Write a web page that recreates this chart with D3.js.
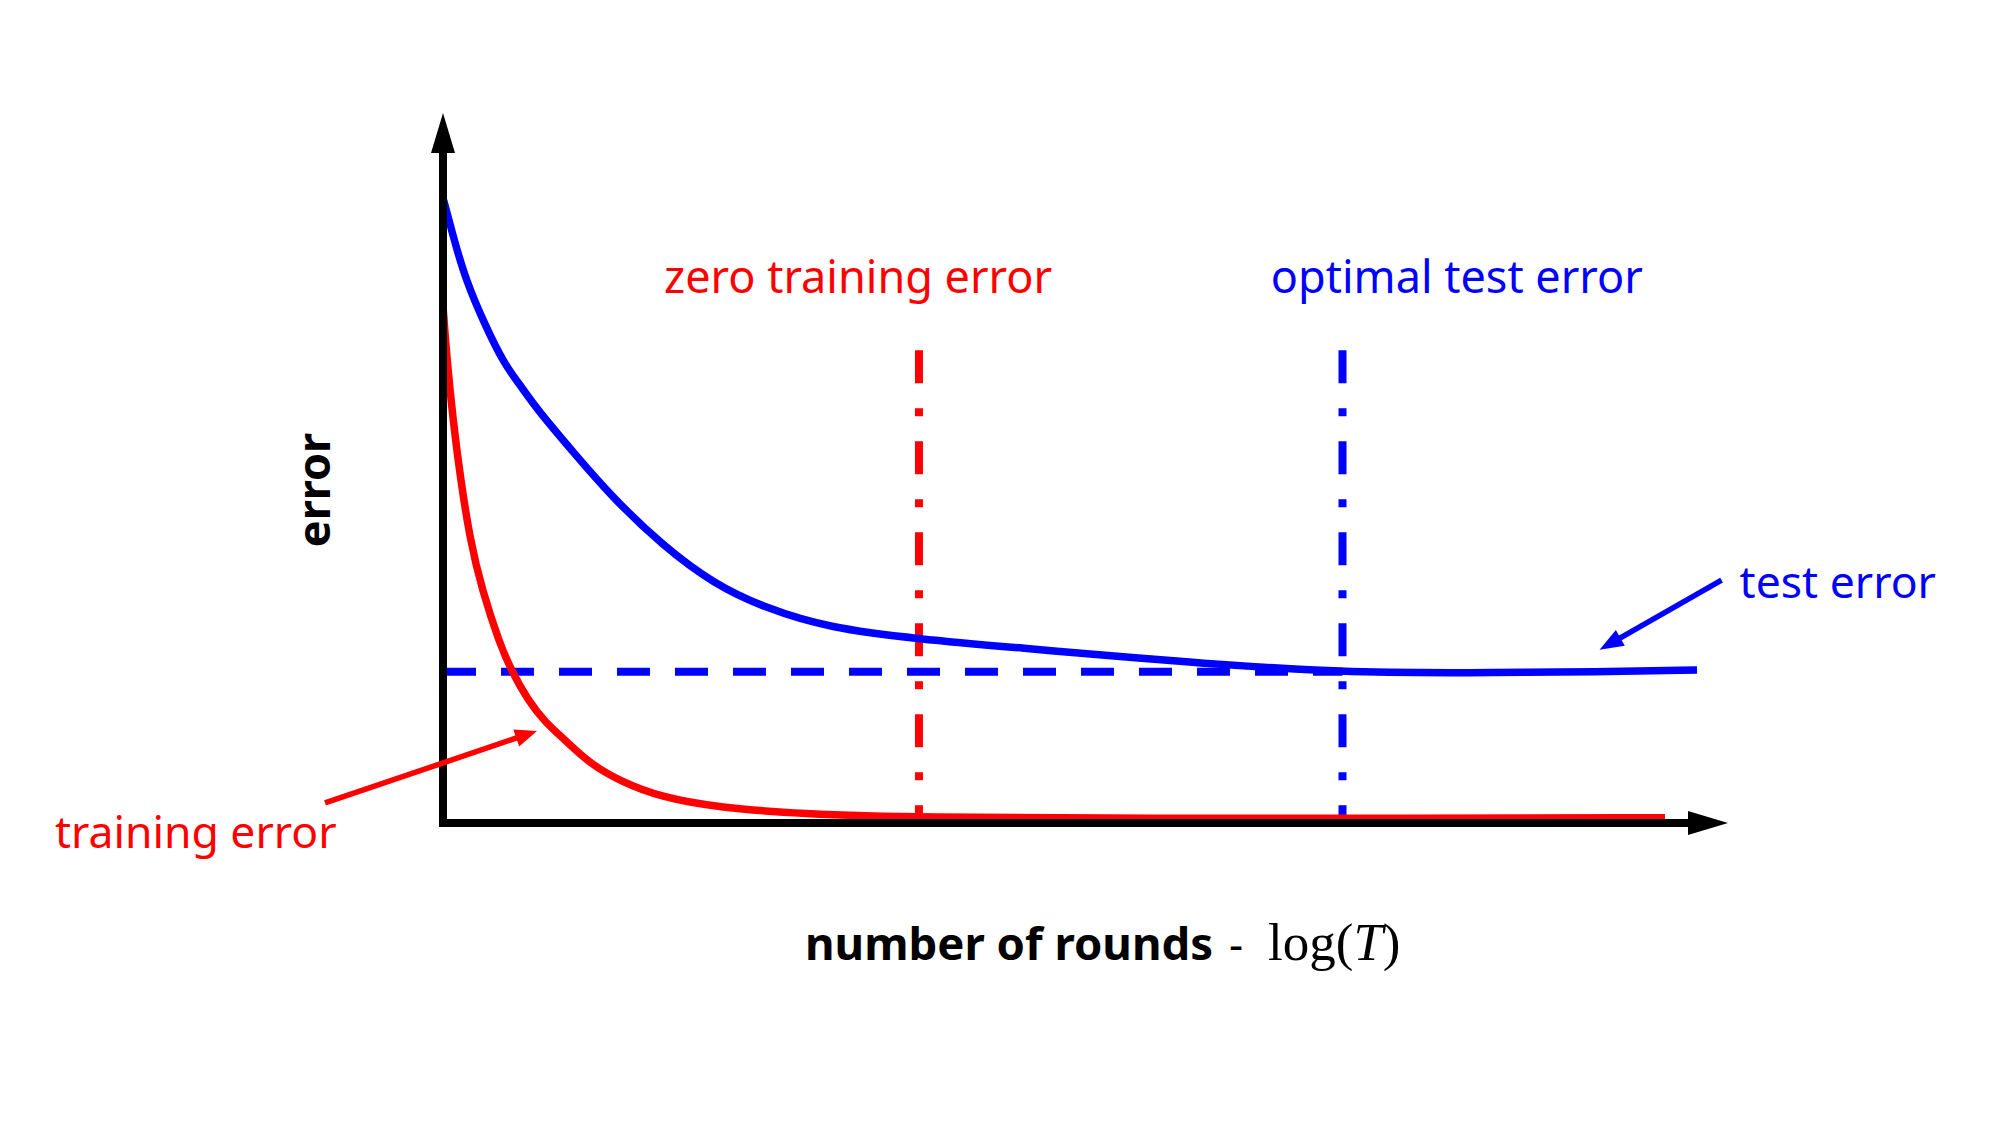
<!DOCTYPE html>
<html>
<head>
<meta charset="utf-8">
<script src="https://cdn.jsdelivr.net/npm/d3@7"></script>
<style>
  html, body { margin: 0; padding: 0; background: #fff; }
  svg { display: block; }
</style>
</head>
<body>
<svg id="chart" width="2000" height="1125"></svg>
<script>
// ---------- data (conceptual units: rounds 0..100, error 0..100) ----------
const testX  = [0, 0.78, 1.79, 3.27, 4.75, 6.23, 7.24, 10.19, 13.15, 17.12, 21.09, 25.06, 30.04, 36.96, 44.90, 54.86, 58.91, 64.75, 69.96, 79.69, 90.04, 97.59];
const testY  = [88.03, 82.68, 76.34, 70.14, 64.65, 61.13, 58.45, 52.11, 45.92, 39.01, 33.66, 30.28, 27.46, 25.92, 24.65, 23.10, 22.54, 21.83, 21.27, 21.13, 21.27, 21.55];
const trainX = [0, 0.31, 0.78, 1.32, 2.10, 3.04, 4.44, 5.37, 6.61, 7.94, 9.49, 11.46, 13.77, 16.89, 21.56, 27.78, 36.96, 54.86, 74.48, 95.10];
const trainY = [72.8, 65.2, 56.8, 49.0, 39.9, 32.8, 25.1, 21.3, 17.3, 14.2, 11.7, 8.31, 5.92, 3.66, 2.15, 1.30, 0.77, 0.65, 0.65, 0.75];

const optimalErrorLevel = 21.3;     // dashed horizontal level
const zeroTrainingX = 37.04;        // vertical marker: zero training error
const optimalTestX = 70.0;          // vertical marker: optimal test error
const markerTop = 66.6;             // top of vertical markers

const axisLabels = { x: ["number of rounds", "-", "log(", "T", ")"], y: "error" };
const markerLabels = ["zero training error", "optimal test error"];
const markerLabelPos = [[32.3, 74.6], [78.9, 74.6]];
const seriesLabels = ["test error", "training error"];
const seriesLabelPos = [[100.9, 31.7], [-30.2, -3.52]];
const seriesArrows = [[[99.5, 34.2], [90.0, 24.4]], [[-9.18, 2.82], [7.32, 12.96]]];

const RED = "#ff0000", BLUE = "#0000ff";

// ---------- scales ----------
const x = d3.scaleLinear().domain([0, 100]).range([443, 1728]);
const y = d3.scaleLinear().domain([0, 100]).range([823, 113]);

const svg = d3.select("#chart");

function arrow(g, x1, y1, x2, y2, color, width, headLen, headHalf, lineShorten) {
  const dx = x2 - x1, dy = y2 - y1, L = Math.hypot(dx, dy);
  const ux = dx / L, uy = dy / L, px = -uy, py = ux;
  const bx = x2 - ux * headLen, by = y2 - uy * headLen;
  g.append("line")
    .attr("x1", x1).attr("y1", y1)
    .attr("x2", x2 - ux * (headLen - lineShorten)).attr("y2", y2 - uy * (headLen - lineShorten))
    .attr("stroke", color).attr("stroke-width", width);
  g.append("polygon")
    .attr("points", [[x2, y2], [bx + px * headHalf, by + py * headHalf], [bx - px * headHalf, by - py * headHalf]].map(p => p.join(",")).join(" "))
    .attr("fill", color);
}

// ---------- reference lines ----------
svg.append("line")
  .attr("x1", x(0)).attr("x2", x(optimalTestX))
  .attr("y1", y(optimalErrorLevel)).attr("y2", y(optimalErrorLevel))
  .attr("stroke", BLUE).attr("stroke-width", 8).attr("stroke-dasharray", "33,25");

[[zeroTrainingX, RED], [optimalTestX, BLUE]].forEach(([v, c]) => {
  svg.append("line")
    .attr("x1", x(v)).attr("x2", x(v))
    .attr("y1", y(markerTop)).attr("y2", y(0))
    .attr("stroke", c).attr("stroke-width", 8).attr("stroke-dasharray", "33,25,8,25");
});

// ---------- curves ----------
const line = d3.line().x(d => x(d[0])).y(d => y(d[1])).curve(d3.curveBasis);
svg.append("path").datum(testX.map((v, i) => [v, testY[i]]))
  .attr("d", line).attr("fill", "none").attr("stroke", BLUE).attr("stroke-width", 7.5);
svg.append("path").datum(trainX.map((v, i) => [v, trainY[i]]))
  .attr("d", line).attr("fill", "none").attr("stroke", RED).attr("stroke-width", 7.5);

// ---------- axes ----------
const axes = svg.append("g");
arrow(axes, x(0), y(0) + 4, x(0), y(100), "#000", 8, 40, 12, 2);
arrow(axes, x(0) - 4, y(0), x(100), y(0), "#000", 8, 40, 12, 2);

// ---------- annotation arrows ----------
arrow(svg, x(seriesArrows[0][0][0]), y(seriesArrows[0][0][1]), x(seriesArrows[0][1][0]), y(seriesArrows[0][1][1]), BLUE, 5.5, 24, 9, 2);
arrow(svg, x(seriesArrows[1][0][0]), y(seriesArrows[1][0][1]), x(seriesArrows[1][1][0]), y(seriesArrows[1][1][1]), RED, 5.5, 22, 9, 2);

// ---------- texts ----------
const SANS = "'Noto Sans', 'Open Sans', sans-serif";
const SERIF = "'Liberation Serif', 'DejaVu Serif', serif";
markerLabels.forEach((t, i) => {
  svg.append("text").text(t)
    .attr("x", x(markerLabelPos[i][0])).attr("y", y(markerLabelPos[i][1]))
    .attr("text-anchor", "middle").attr("font-family", SANS).attr("font-size", 45)
    .attr("fill", i === 0 ? RED : BLUE);
});
seriesLabels.forEach((t, i) => {
  svg.append("text").text(t)
    .attr("x", x(seriesLabelPos[i][0])).attr("y", y(seriesLabelPos[i][1]))
    .attr("text-anchor", "start").attr("font-family", SANS).attr("font-size", 44.5)
    .attr("fill", i === 0 ? BLUE : RED);
});

// y label
svg.append("text").text(axisLabels.y)
  .attr("transform", `translate(330,${(y(0) + y(100)) / 2 + 22}) rotate(-90)`)
  .attr("text-anchor", "middle").attr("font-family", SANS).attr("font-weight", "bold")
  .attr("font-size", 45).attr("fill", "#000");

// x label
const xl = svg.append("text").attr("y", 960).attr("fill", "#000");
xl.append("tspan").attr("x", 805).text(axisLabels.x[0]).attr("font-family", SANS).attr("font-weight", "bold").attr("font-size", 45.5);
xl.append("tspan").attr("x", 1229).text(axisLabels.x[1]).attr("font-family", SANS).attr("font-size", 44);
xl.append("tspan").attr("x", 1268).text(axisLabels.x[2]).attr("font-family", SERIF).attr("font-size", 53);
xl.append("tspan").text(axisLabels.x[3]).attr("font-family", SERIF).attr("font-style", "italic").attr("font-size", 53);
xl.append("tspan").text(axisLabels.x[4]).attr("font-family", SERIF).attr("font-size", 53);
</script>
</body>
</html>
